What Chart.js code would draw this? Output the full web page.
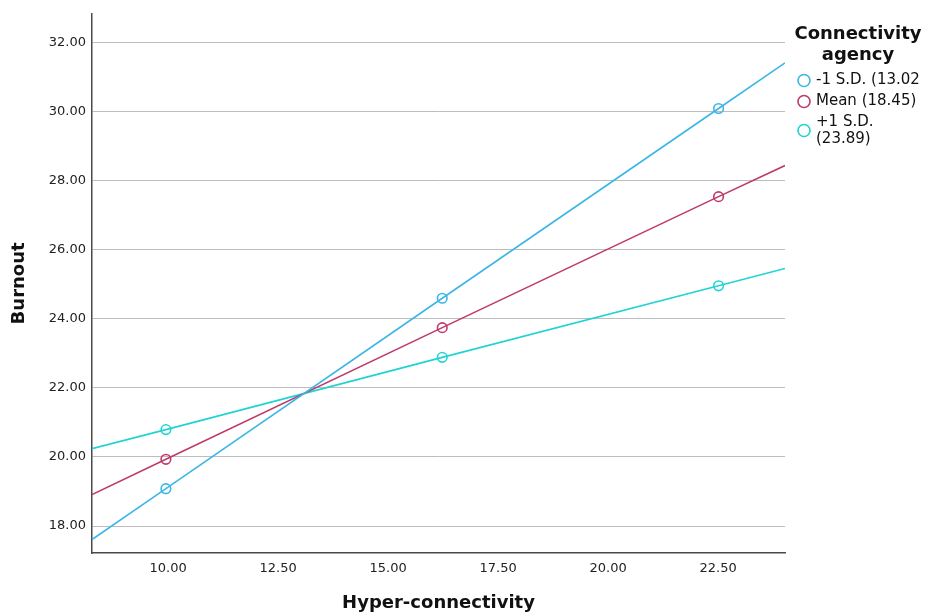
<!DOCTYPE html>
<html>
<head>
<meta charset="utf-8">
<script src="https://cdn.jsdelivr.net/npm/chart.js@4/dist/chart.umd.min.js"></script>
<style>
  html, body { margin: 0; padding: 0; background: #ffffff; }
  canvas { display: block; }
</style>
</head>
<body>
<canvas id="c" width="935" height="616"></canvas>
<script>
// ---- data ----
const xTicks = [10, 12.5, 15, 17.5, 20, 22.5];
const yTicks = [18, 20, 22, 24, 26, 28, 30, 32];
// x positions: left end of fit line, three probe points, right end of fit line
const hyperX = [8.27, 9.95, 16.23, 22.51, 24.02];
const lowSD  = [17.61, 19.08, 24.59, 30.08, 31.40];
const meanV  = [18.91, 19.93, 23.74, 27.53, 28.43];
const highSD = [20.24, 20.79, 22.88, 24.95, 25.45];
const seriesNames = [['-1 S.D. (13.02'], ['Mean (18.45)'], ['+1 S.D.', '(23.89)']];
const legendTitle = ['Connectivity', 'agency'];
const xTitle = 'Hyper-connectivity';
const yTitle = 'Burnout';
const xRange = [8.27, 24.02];
const yRange = [17.22, 32.82];

// ---- styling ----
const colors = ['#3cb6e6', '#bf3a6c', '#22d3d3'];
const FONT = '"DejaVu Sans", Verdana, sans-serif';

const seriesValues = [lowSD, meanV, highSD];
const datasets = seriesValues.map((vals, i) => ({
  label: seriesNames[i].join(' '),
  data: vals.map((v, j) => ({ x: hyperX[j], y: v })),
  showLine: true,
  borderColor: colors[i],
  borderWidth: 1.6,
  pointBorderColor: colors[i],
  pointBackgroundColor: 'rgba(0,0,0,0)',
  pointBorderWidth: 1.6,
  pointRadius: (ctx) => (ctx.dataIndex === 0 || ctx.dataIndex === hyperX.length - 1) ? 0 : 4.8,
  pointHoverRadius: 4.8,
  tension: 0
}));

const sideLegend = {
  id: 'sideLegend',
  afterDraw(chart) {
    const ctx = chart.ctx;
    ctx.save();
    ctx.fillStyle = '#111';
    ctx.textAlign = 'center';
    ctx.textBaseline = 'alphabetic';
    ctx.font = 'bold 18px ' + FONT;
    const cx = 858;
    legendTitle.forEach((t, i) => ctx.fillText(t, cx, 39 + i * 21));
    ctx.font = '15px ' + FONT;
    ctx.textAlign = 'left';
    ctx.textBaseline = 'middle';
    const itemY = [80.5, 101.5, 130.5];
    const lineH = 17;
    seriesNames.forEach((lines, i) => {
      const yc = itemY[i];
      ctx.beginPath();
      ctx.strokeStyle = colors[i];
      ctx.lineWidth = 1.6;
      ctx.arc(804, yc, 6, 0, Math.PI * 2);
      ctx.stroke();
      const y0 = yc - (lines.length - 1) * lineH / 2;
      ctx.fillStyle = '#111';
      lines.forEach((t, k) => ctx.fillText(t, 816, y0 + k * lineH));
    });
    ctx.restore();
  }
};

new Chart(document.getElementById('c'), {
  type: 'scatter',
  data: { datasets },
  options: {
    responsive: false,
    animation: false,
    layout: { padding: { top: 10, right: 150, left: 0, bottom: 0 } },
    plugins: { legend: { display: false }, tooltip: { enabled: false } },
    scales: {
      x: {
        type: 'linear',
        min: xRange[0],
        max: xRange[1],
        afterBuildTicks: (s) => { s.ticks = xTicks.map(v => ({ value: v })); },
        afterFit: (s) => { s.height = 63; },
        grid: { display: false, drawTicks: false },
        border: { display: true, color: '#4a4a4a', width: 1.5 },
        ticks: {
          padding: 8,
          color: '#222',
          font: { family: FONT, size: 13 },
          callback: (v) => Number(v).toFixed(2),
          maxRotation: 0
        },
        title: {
          display: true,
          text: xTitle,
          color: '#111',
          font: { family: FONT, size: 18, weight: 'bold' },
          padding: { top: 0, bottom: 2 }
        }
      },
      y: {
        type: 'linear',
        min: yRange[0],
        max: yRange[1],
        afterBuildTicks: (s) => { s.ticks = yTicks.map(v => ({ value: v })); },
        afterFit: (s) => { s.width = 92; },
        grid: { display: true, color: '#bdbdbd', lineWidth: 1, drawTicks: false },
        border: { display: true, color: '#4a4a4a', width: 1.5 },
        ticks: {
          padding: 6,
          color: '#222',
          font: { family: FONT, size: 13 },
          callback: (v) => Number(v).toFixed(2)
        },
        title: {
          display: true,
          text: yTitle,
          color: '#111',
          font: { family: FONT, size: 18, weight: 'bold' },
          padding: { top: 9, bottom: 0 }
        }
      }
    }
  },
  plugins: [sideLegend]
});
</script>
</body>
</html>
